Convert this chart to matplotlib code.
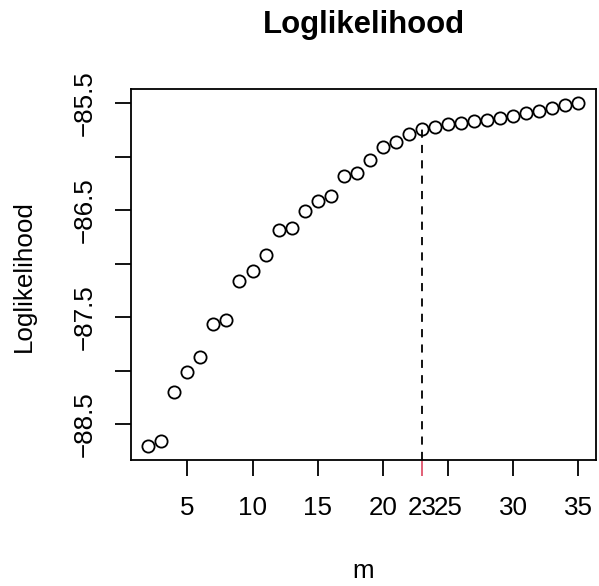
import matplotlib
matplotlib.use("Agg")
import matplotlib.pyplot as plt
import numpy as np

plt.rcParams['font.family'] = ['Liberation Sans', 'DejaVu Sans']

m = list(range(2, 36))
loglik = [-88.709, -88.662, -88.204, -88.014, -87.874, -87.569, -87.525, -87.160,
          -87.070, -86.918, -86.684, -86.668, -86.503, -86.410, -86.363, -86.184,
          -86.148, -86.030, -85.905, -85.864, -85.787, -85.740, -85.721, -85.693,
          -85.681, -85.668, -85.656, -85.637, -85.615, -85.593, -85.569, -85.540,
          -85.512, -85.494]
best_m = 23
x_ticks = [5, 10, 15, 20, 25, 30, 35]
y_ticks = [-88.5, -88.0, -87.5, -87.0, -86.5, -86.0, -85.5]
y_labels = ['\u221288.5', '', '\u221287.5', '', '\u221286.5', '', '\u221285.5']
title = "Loglikelihood"
xlab = "m"
ylab = "Loglikelihood"

W, H = 599, 586
fig = plt.figure(figsize=(W/100, H/100), dpi=100)
ax = fig.add_axes([131/W, 1-460/H, (595.7-131)/W, (460-89)/H])

lw = 1.3
fs = 18.7
ax.plot(m, loglik, 'o', mfc='none', mec='black', ms=8.8, mew=lw, clip_on=False)

xr = max(m) - min(m)
ax.set_xlim(min(m) - 0.04*xr, max(m) + 0.04*xr)
yr = max(loglik) - min(loglik)
ymin, ymax = min(loglik) - 0.04*yr, max(loglik) + 0.04*yr
ax.set_ylim(ymin, ymax)

best_val = loglik[m.index(best_m)]
ax.plot([best_m, best_m], [ymin, best_val], color='black', lw=lw, ls=(0, (4.5, 4)))

for s in ax.spines.values():
    s.set_linewidth(lw)

ax.set_xticks(x_ticks + [best_m])
ax.set_xticklabels([str(t) for t in x_ticks] + [str(best_m)])
ax.set_yticks(y_ticks)
ax.set_yticklabels(y_labels, rotation=90, va='center')
ax.tick_params(axis='both', direction='out', length=11.5, width=lw, labelsize=fs, colors='black')
ax.tick_params(axis='x', pad=14.5)
ax.tick_params(axis='y', pad=13)
red = '#DF536B'
ax.get_xticklines()[2*len(x_ticks)].set_color(red)
ax.get_xticklines()[2*len(x_ticks)].set_markeredgecolor(red)

fig.text(363.5/W, 1-25/H, title, ha='center', va='center', fontsize=fs*1.2, fontweight='bold')
fig.text(363.5/W, 1-571/H, xlab, ha='center', va='center', fontsize=fs)
fig.text(24/W, 1-276/H, ylab, ha='center', va='center', fontsize=fs, rotation=90)

fig.savefig('out.png', dpi=100)
